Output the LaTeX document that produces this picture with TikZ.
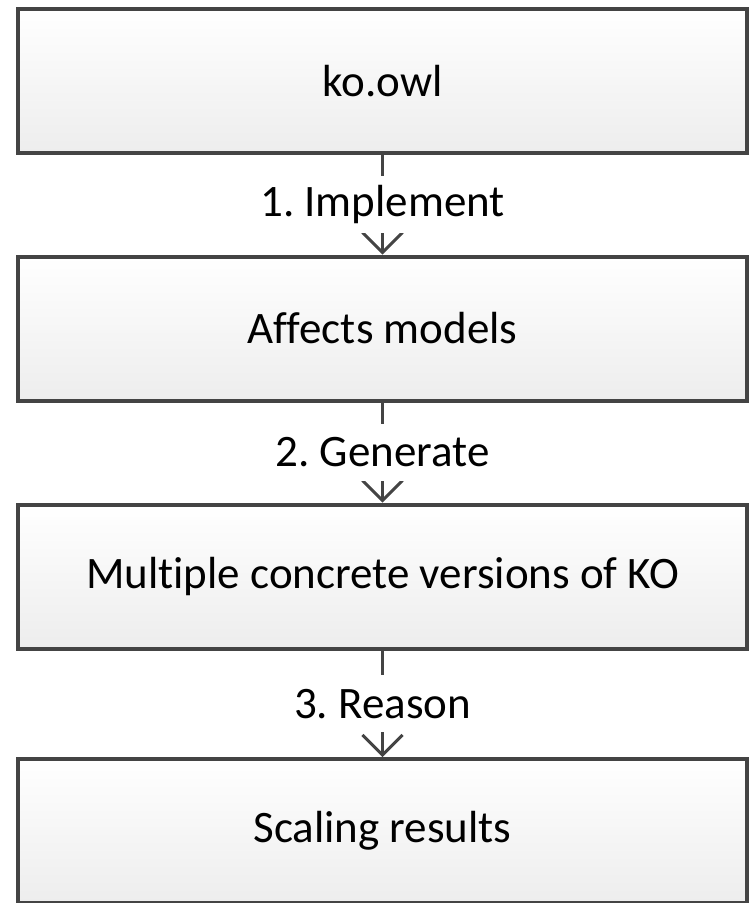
\documentclass[tikz,border=0pt]{standalone}
\usepackage{fontspec}
\setmainfont{Carlito}[Ligatures={NoCommon,NoRequired}]
\usetikzlibrary{arrows.meta}
\definecolor{edgegray}{HTML}{444444}
\definecolor{fillgray}{HTML}{EDEDED}
\frenchspacing

\begin{document}
\begin{tikzpicture}[x=1pt,y=1pt,
  stagebox/.style={draw=edgegray,line width=4pt,top color=white,bottom color=fillgray,
    minimum width=729pt,minimum height=144pt,inner sep=0pt,font=\fontsize{45}{50}\selectfont},
  steplabel/.style={fill=white,minimum height=57pt,inner sep=2pt,font=\fontsize{45}{50}\selectfont},
  flow/.style={draw=edgegray,line width=3pt,-{Straight Barb[length=20pt,width=40pt,line width=3pt]}}]
\useasboundingbox (0,0) rectangle (748,-903);
\node[stagebox] (owl) at (382.5,-81) {ko.owl};
\node[stagebox] (affects) at (382.5,-328.5) {Affects models};
\node[stagebox] (versions) at (382.5,-576.5) {Multiple concrete versions of KO};
\node[stagebox] (scaling) at (382.5,-831) {Scaling results};
\draw[flow] (owl) -- node[steplabel] (implement) {1. Implement} (affects);
\draw[flow] (affects) -- node[steplabel] (generate) {2. Generate} (versions);
\draw[flow] (versions) -- node[steplabel] (reason) {3. Reason} (scaling);
\end{tikzpicture}
\end{document}
